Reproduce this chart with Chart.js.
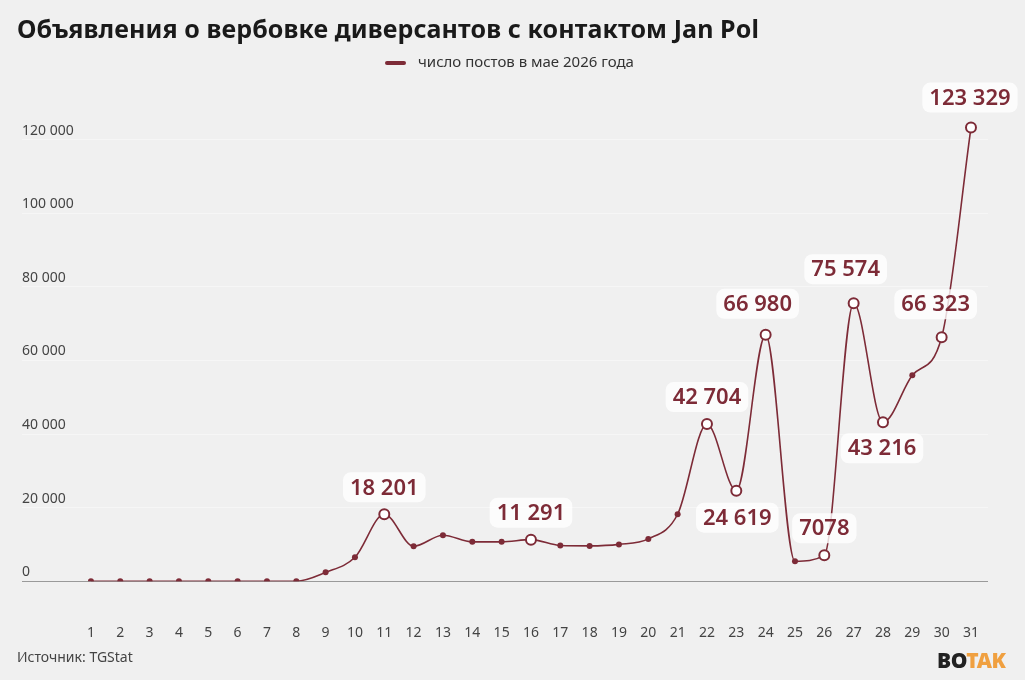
<!DOCTYPE html>
<html lang="ru">
<head>
<meta charset="utf-8">
<script src="https://cdn.jsdelivr.net/npm/chart.js@4/dist/chart.umd.min.js"></script>
<style>
  html, body { margin: 0; padding: 0; background: #f0f0f0; }
  #wrap { position: relative; width: 1025px; height: 680px; overflow: hidden; font-family: "Noto Sans", sans-serif; }
  #myChart { position: absolute; left: 0; top: 0; }
  #title { position: absolute; left: 17px; top: 11px; font-size: 25px; font-weight: 700; color: #1a1a1a; white-space: nowrap; letter-spacing: 0.1px; }
  #legend { position: absolute; left: 385px; top: 51px; font-size: 15px; color: #333; white-space: nowrap; }
  #legend span.mark { display: inline-block; width: 21px; height: 4px; background: #7d2b37; vertical-align: middle; margin-right: 12px; border-radius: 2px; }
  #source { position: absolute; left: 17px; top: 647px; font-size: 14px; color: #444; }
  #logo { position: absolute; left: 937px; top: 646px; font-size: 21px; font-weight: 900; letter-spacing: -0.5px; }
  #logo .a { color: #222; }
  #logo .b { color: #f0a040; }
</style>
</head>
<body>
<div id="wrap">
  <canvas id="myChart" width="1025" height="680"></canvas>
  <div id="title">Объявления о вербовке диверсантов с контактом Jan Pol</div>
  <div id="legend"><span class="mark"></span>число постов в мае 2026 года</div>
  <div id="source">Источник: TGStat</div>
  <div id="logo"><span class="a">BO</span><span class="b">TAK</span></div>
</div>
<script>
// days of May 2026
var days = [1, 2, 3, 4, 5, 6, 7, 8, 9, 10, 11, 12, 13, 14, 15, 16, 17, 18, 19, 20, 21, 22, 23, 24, 25, 26, 27, 28, 29, 30, 31];
// number of posts per day
var posts = [0, 0, 0, 0, 0, 0, 0, 0, 2400, 6500, 18201, 9500, 12500, 10700, 10700, 11291, 9700, 9600, 10000, 11500, 18200, 42704, 24619, 66980, 5400, 7078, 75574, 43216, 56000, 66323, 123329];
// days that get a value label
var labeledDays = [11, 16, 22, 23, 24, 26, 27, 28, 30, 31];
var yTicks = [0, 20000, 40000, 60000, 80000, 100000, 120000];

var lineColor = '#7d2b37';

// where to put the label relative to its point
var labelPlace = {
  23: { dx: 1, dy: 27 },
  28: { dx: -1, dy: 26 },
  24: { dx: -8, dy: -31 },
  27: { dx: -8, dy: -34 },
  30: { dx: -6, dy: -33 },
  31: { dx: -1, dy: -30 }
};

function fmt(n) {
  var s = String(n);
  if (n < 10000) return s;
  return s.replace(/\B(?=(\d{3})+(?!\d))/g, ' ');
}

function isLabeled(i) {
  return labeledDays.indexOf(days[i]) !== -1;
}

var valueLabels = {
  id: 'valueLabels',
  afterDatasetsDraw: function(chart) {
    var ctx = chart.ctx;
    var meta = chart.getDatasetMeta(0);
    ctx.save();
    ctx.font = '600 22px "Noto Sans"';
    ctx.textAlign = 'center';
    ctx.textBaseline = 'middle';
    days.forEach(function(d, i) {
      if (!isLabeled(i)) return;
      var pt = meta.data[i];
      var place = labelPlace[d] || { dx: 0, dy: -27 };
      var txt = fmt(posts[i]);
      var w = ctx.measureText(txt).width + 14;
      var h = 30;
      var cx = pt.x + place.dx, cy = pt.y + place.dy;
      ctx.fillStyle = 'rgba(255,255,255,0.8)';
      ctx.beginPath();
      ctx.roundRect(cx - w / 2, cy - h / 2, w, h, 8);
      ctx.fill();
      ctx.fillStyle = lineColor;
      ctx.fillText(txt, cx, cy + 1);
    });
    ctx.restore();
  }
};

var ctx = document.getElementById('myChart').getContext('2d');

var myChart = new Chart(ctx, {
  type: 'line',
  data: {
    datasets: [{
      label: 'число постов в мае 2026 года',
      data: days.map(function(d, i) { return { x: d, y: posts[i] }; }),
      borderColor: lineColor,
      backgroundColor: lineColor,
      borderWidth: 1.6,
      cubicInterpolationMode: 'monotone',
      pointRadius: function(c) { return isLabeled(c.dataIndex) ? 5 : 3; },
      pointBorderWidth: function(c) { return isLabeled(c.dataIndex) ? 2 : 0; },
      pointBackgroundColor: function(c) { return isLabeled(c.dataIndex) ? '#ffffff' : lineColor; },
      pointBorderColor: lineColor
    }]
  },
  options: {
    responsive: false,
    animation: false,
    layout: { padding: { top: 103, left: 22, right: 37, bottom: 4 } },
    plugins: {
      legend: { display: false },
      title: { display: false },
      tooltip: { enabled: false }
    },
    scales: {
      x: {
        type: 'linear',
        min: -1.35,
        max: 31.58,
        afterBuildTicks: function(s) { s.ticks = days.map(function(d) { return { value: d }; }); },
        grid: { display: false },
        border: { display: false },
        ticks: {
          padding: 35,
          color: '#444',
          font: { family: 'Noto Sans', size: 14 },
          autoSkip: false,
          maxRotation: 0
        }
      },
      y: {
        min: 0,
        max: 130000,
        afterBuildTicks: function(s) { s.ticks = yTicks.map(function(v) { return { value: v }; }); },
        border: { display: false },
        grid: {
          drawTicks: false,
          color: function(c) { return c.tick.value === 0 ? '#9a9a9a' : 'rgba(255,255,255,0.4)'; },
          lineWidth: 1
        },
        ticks: {
          mirror: true,
          padding: 0,
          labelOffset: -9,
          color: '#444',
          font: { family: 'Noto Sans', size: 14 },
          callback: function(v) { return fmt(v); }
        }
      }
    }
  },
  plugins: [valueLabels]
});
</script>
</body>
</html>
